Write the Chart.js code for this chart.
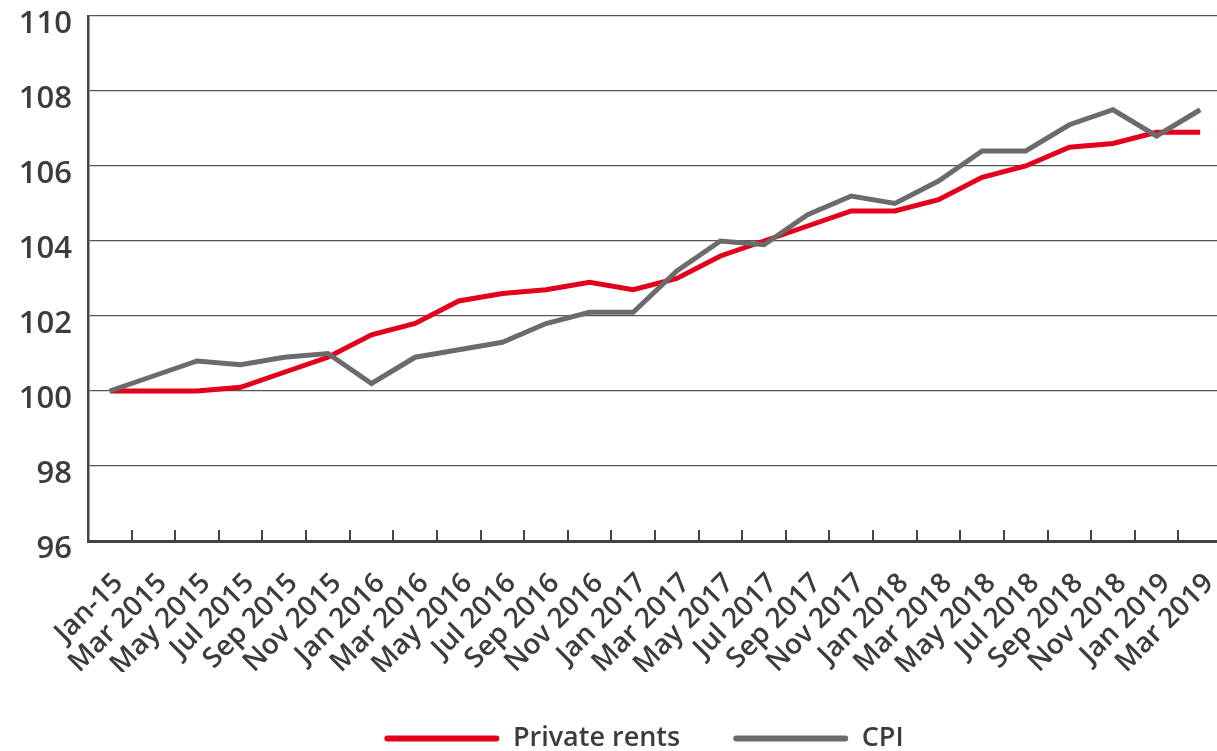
<!DOCTYPE html>
<html>
<head>
<meta charset="utf-8">
<script src="https://cdn.jsdelivr.net/npm/chart.js@4.4.1/dist/chart.umd.min.js"></script>
<style>
  html, body { margin: 0; padding: 0; background: #fff; overflow: hidden; }
  #wrap { width: 1222px; height: 762px; }
</style>
</head>
<body>
<div id="wrap"><canvas id="myChart"></canvas></div>
<script>
const months = [
  'Jan-15', 'Mar 2015', 'May 2015', 'Jul 2015', 'Sep 2015', 'Nov 2015',
  'Jan 2016', 'Mar 2016', 'May 2016', 'Jul 2016', 'Sep 2016', 'Nov 2016',
  'Jan 2017', 'Mar 2017', 'May 2017', 'Jul 2017', 'Sep 2017', 'Nov 2017',
  'Jan 2018', 'Mar 2018', 'May 2018', 'Jul 2018', 'Sep 2018', 'Nov 2018',
  'Jan 2019', 'Mar 2019'
];
const privateRents = [
  100.0, 100.0, 100.0, 100.1, 100.5, 100.9,
  101.5, 101.8, 102.4, 102.6, 102.7, 102.9,
  102.7, 103.0, 103.6, 104.0, 104.4, 104.8,
  104.8, 105.1, 105.7, 106.0, 106.5, 106.6,
  106.9, 106.9
];
const cpi = [
  100.0, 100.4, 100.8, 100.7, 100.9, 101.0,
  100.2, 100.9, 101.1, 101.3, 101.8, 102.1,
  102.1, 103.2, 104.0, 103.9, 104.7, 105.2,
  105.0, 105.6, 106.4, 106.4, 107.1, 107.5,
  106.8, 107.5
];
const yTicks = [96, 98, 100, 102, 104, 106, 108, 110];

const textColor = '#3c3c3c';
const font = 'Open Sans';

// small tick marks pointing up into the plot, between categories
const innerTicks = {
  id: 'innerTicks',
  afterDraw(chart) {
    const x = chart.scales.x;
    const ctx = chart.ctx;
    const bottom = chart.chartArea.bottom;
    ctx.save();
    ctx.strokeStyle = '#444';
    ctx.lineWidth = 2;
    for (let i = 0; i < months.length - 1; i++) {
      const px = Math.round((x.getPixelForValue(i) + x.getPixelForValue(i + 1)) / 2);
      ctx.beginPath();
      ctx.moveTo(px, bottom);
      ctx.lineTo(px, bottom - 11);
      ctx.stroke();
    }
    ctx.restore();
  }
};

// nudge the legend a bit to the right like the original
const legendShift = {
  id: 'legendShift',
  afterLayout(chart) {
    chart.legend.left += 33;
    chart.legend.right += 33;
  }
};

const ctx = document.getElementById('myChart').getContext('2d');

new Chart(ctx, {
  type: 'line',
  data: {
    labels: months,
    datasets: [{
      label: 'Private rents',
      data: privateRents,
      borderColor: '#e3001b',
      backgroundColor: '#e3001b',
      borderWidth: 5,
      pointRadius: 0,
      tension: 0,
      fill: false,
      order: 1
    }, {
      label: 'CPI',
      data: cpi,
      borderColor: '#6b6b6b',
      backgroundColor: '#6b6b6b',
      borderWidth: 5,
      pointRadius: 0,
      tension: 0,
      fill: false,
      order: 0
    }]
  },
  options: {
    responsive: true,
    maintainAspectRatio: false,
    animation: false,
    layout: { padding: { top: 0, left: 0, right: 0, bottom: 0 } },
    plugins: {
      tooltip: { enabled: false },
      legend: {
        display: true,
        position: 'bottom',
        labels: {
          boxWidth: 115,
          boxHeight: 6,
          padding: 53,
          color: textColor,
          font: { family: font, size: 27, weight: '600' },
          sort: (a, b) => a.datasetIndex - b.datasetIndex,
          generateLabels(chart) {
            return Chart.defaults.plugins.legend.labels.generateLabels(chart)
              .map(l => ({ ...l, lineWidth: 0, borderRadius: 3 }));
          }
        }
      }
    },
    scales: {
      x: {
        offset: true,
        afterFit(scale) {
          scale.height = 131;
          scale.paddingLeft = 0;
          scale.paddingRight = 0;
        },
        grid: { display: false },
        border: { display: true, color: '#444', width: 3 },
        ticks: {
          color: textColor,
          font: { family: font, size: 28, weight: '600' },
          autoSkip: false,
          maxRotation: 45,
          minRotation: 45,
          padding: 18,
          labelOffset: 9
        }
      },
      y: {
        min: 96,
        max: 110,
        afterFit(scale) {
          scale.width = 88;
          scale.paddingTop = 16;
          scale.paddingBottom = 0;
        },
        afterBuildTicks(scale) { scale.ticks = yTicks.map(v => ({ value: v })); },
        grid: { color: '#555', lineWidth: 1.3, drawTicks: false },
        border: { display: true, color: '#444', width: 2.5 },
        ticks: {
          color: textColor,
          font: { family: font, size: 31, weight: '600' },
          padding: 16,
          labelOffset: 8
        }
      }
    }
  },
  plugins: [innerTicks, legendShift]
});
</script>
</body>
</html>
